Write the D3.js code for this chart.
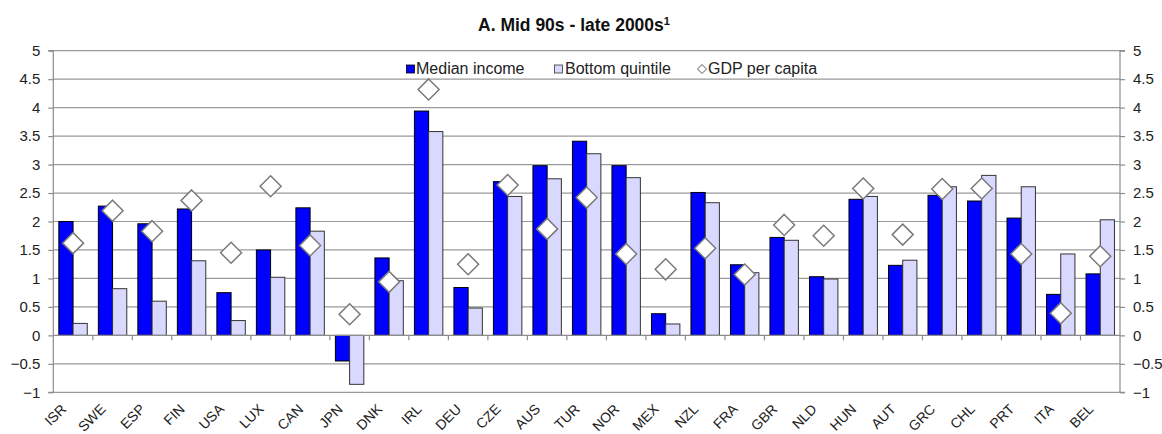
<!DOCTYPE html>
<html>
<head>
<meta charset="utf-8">
<script src="https://cdn.jsdelivr.net/npm/d3@7"></script>
<style>
  html, body { margin: 0; padding: 0; background: #fff; }
  svg { display: block; font-family: "Liberation Sans", Arial, sans-serif; }
</style>
</head>
<body>
<svg id="chart" width="1162" height="434"></svg>
<script>
const categories = ["ISR","SWE","ESP","FIN","USA","LUX","CAN","JPN","DNK","IRL","DEU","CZE","AUS","TUR","NOR","MEX","NZL","FRA","GBR","NLD","HUN","AUT","GRC","CHL","PRT","ITA","BEL"];
const medianIncome = [2.0,2.27,1.96,2.22,0.75,1.50,2.24,-0.45,1.36,3.94,0.84,2.70,2.98,3.41,2.98,0.38,2.51,1.24,1.72,1.03,2.39,1.23,2.46,2.36,2.06,0.72,1.08];
const bottomQuintile = [0.21,0.82,0.60,1.31,0.26,1.02,1.83,-0.86,0.96,3.58,0.48,2.44,2.75,3.19,2.77,0.20,2.33,1.10,1.67,0.99,2.44,1.32,2.61,2.81,2.61,1.43,2.03];
const gdpPerCapita = [1.62,2.19,1.83,2.37,1.45,2.62,1.58,0.37,0.94,4.32,1.25,2.64,1.87,2.42,1.43,1.16,1.53,1.07,1.94,1.75,2.58,1.77,2.57,2.58,1.43,0.39,1.39];
const yTicks = [-1,-0.5,0,0.5,1,1.5,2,2.5,3,3.5,4,4.5,5];
const seriesNames = ["Median income","Bottom quintile","GDP per capita"];

const svg = d3.select("#chart");
const pL = 53.3, pR = 1120, pT = 50.7, pB = 392.3;

const x = d3.scaleBand().domain(categories).range([pL, pR]).paddingInner(0).paddingOuter(0);
const xs = d3.scaleBand().domain(["m","b"]).range([0, x.bandwidth()]).paddingInner(0).paddingOuter(0.39);
const y = d3.scaleLinear().domain([-1, 5]).range([pB, pT]);

const gridColor = "#9a9a9a";
const axisColor = "#8c8c8c";

// gridlines
svg.append("g").selectAll("line").data(yTicks.filter(d => d !== 0)).join("line")
  .attr("x1", pL).attr("x2", pR)
  .attr("y1", d => y(d)).attr("y2", d => y(d))
  .attr("stroke", gridColor).attr("stroke-width", 1.2);

// left axis
const yAxisL = d3.axisLeft(y).tickValues(yTicks).tickSize(5).tickPadding(8).tickFormat(d3.format("~g"));
const gL = svg.append("g").attr("transform", `translate(${pL},0)`).call(yAxisL);
gL.select(".domain").attr("stroke", axisColor).attr("stroke-width", 1.2).attr("d", `M-5,${pB}H0V${pT}H-5`);
gL.selectAll(".tick line").attr("stroke", axisColor).attr("stroke-width", 1.2);
gL.selectAll(".tick text").attr("font-size", 15).attr("fill", "#222").attr("font-family", "Liberation Sans, Arial, sans-serif");

// right axis
const yAxisR = d3.axisRight(y).tickValues(yTicks).tickSize(5).tickPadding(8).tickFormat(d3.format("~g"));
const gR = svg.append("g").attr("transform", `translate(${pR},0)`).call(yAxisR);
gR.select(".domain").attr("stroke", axisColor).attr("stroke-width", 1.2).attr("d", `M5,${pB}H0V${pT}H5`);
gR.selectAll(".tick line").attr("stroke", axisColor).attr("stroke-width", 1.2);
gR.selectAll(".tick text").attr("font-size", 15).attr("fill", "#222").attr("font-family", "Liberation Sans, Arial, sans-serif");

// bars
const gBars = svg.append("g");
gBars.selectAll("rect.m").data(categories).join("rect").attr("class","m")
  .attr("x", (d) => x(d) + xs("m"))
  .attr("width", xs.bandwidth())
  .attr("y", (d,i) => y(Math.max(0, medianIncome[i])))
  .attr("height", (d,i) => Math.abs(y(medianIncome[i]) - y(0)))
  .attr("fill", "#0000ff").attr("stroke", "#000").attr("stroke-width", 1);
gBars.selectAll("rect.b").data(categories).join("rect").attr("class","b")
  .attr("x", (d) => x(d) + xs("b"))
  .attr("width", xs.bandwidth())
  .attr("y", (d,i) => y(Math.max(0, bottomQuintile[i])))
  .attr("height", (d,i) => Math.abs(y(bottomQuintile[i]) - y(0)))
  .attr("fill", "#d9d9ff").attr("stroke", "#333").attr("stroke-width", 1);

// x axis at zero with category ticks
const gX = svg.append("g");
gX.append("line").attr("x1", pL).attr("x2", pR).attr("y1", y(0)).attr("y2", y(0))
  .attr("stroke", axisColor).attr("stroke-width", 1.2);
gX.selectAll("line.t").data(categories.slice(1)).join("line").attr("class","t")
  .attr("x1", d => x(d)).attr("x2", d => x(d))
  .attr("y1", y(0)).attr("y2", y(0) + 5)
  .attr("stroke", axisColor).attr("stroke-width", 1.2);

// diamonds
const dm = 10.5;
svg.append("g").selectAll("path").data(categories).join("path")
  .attr("transform", (d,i) => `translate(${x(d) + x.bandwidth()/2},${y(gdpPerCapita[i])})`)
  .attr("d", `M0,${-dm}L${dm},0L0,${dm}L${-dm},0Z`)
  .attr("fill", "#fff").attr("stroke", "#7a7a7a").attr("stroke-width", 1.5);

// x labels
svg.append("g").selectAll("text").data(categories).join("text")
  .attr("transform", d => `translate(${x(d) + x.bandwidth()/2 - 6},${410}) rotate(-45)`)
  .attr("text-anchor", "end")
  .attr("font-size", 14).attr("fill", "#222")
  .text(d => d);

// title
const title = svg.append("text").attr("x", 574).attr("y", 31).attr("text-anchor", "middle")
  .attr("font-size", 17.5).attr("font-weight", "bold").attr("fill", "#111");
title.append("tspan").text("A. Mid 90s - late 2000s");
title.append("tspan").attr("font-size", 11).attr("dy", -6).text("1");

// legend
const lg = svg.append("g").attr("font-size", 16).attr("fill", "#222");
lg.append("rect").attr("x", 406.5).attr("y", 65).attr("width", 8).attr("height", 8).attr("fill", "#0000ff").attr("stroke", "#000").attr("stroke-width", 0.8);
lg.append("text").attr("x", 416).attr("y", 74).text(seriesNames[0]);
lg.append("rect").attr("x", 554.5).attr("y", 65).attr("width", 8).attr("height", 8).attr("fill", "#d9d9ff").attr("stroke", "#333").attr("stroke-width", 0.8);
lg.append("text").attr("x", 565).attr("y", 74).text(seriesNames[1]);
lg.append("path").attr("transform", "translate(702,69)").attr("d", "M0,-4.5L4.5,0L0,4.5L-4.5,0Z")
  .attr("fill", "#fff").attr("stroke", "#555").attr("stroke-width", 1);
lg.append("text").attr("x", 708).attr("y", 74).text(seriesNames[2]);
</script>
</body>
</html>
